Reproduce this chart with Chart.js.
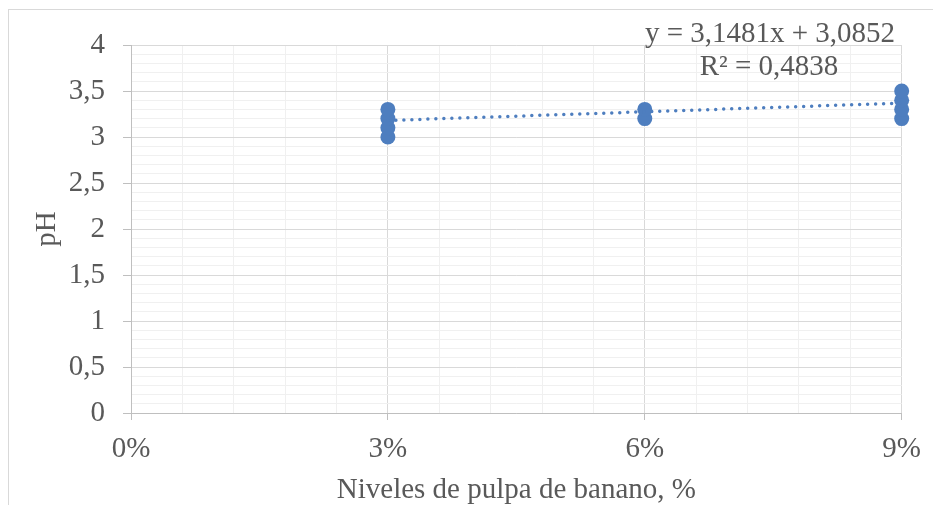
<!DOCTYPE html>
<html>
<head>
<meta charset="utf-8">
<script src="https://cdn.jsdelivr.net/npm/chart.js@4.4.1/dist/chart.umd.min.js"></script>
<style>
  body { margin: 0; background: #fff; }
  #wrap { position: relative; width: 933px; height: 505px; }
  #frame { position: absolute; left: 8px; top: 9px; right: -2px; bottom: -2px;
           border-left: 1px solid #d9d9d9; border-top: 1px solid #d9d9d9; pointer-events: none; }
</style>
</head>
<body>
<div id="wrap">
  <canvas id="chart" width="933" height="505"></canvas>
  <div id="frame"></div>
</div>
<script>
// Niveles de pulpa de banano (%) and measured pH
const levels = [3, 6, 9];
const phAt3 = [3.0, 3.1, 3.2, 3.3];
const phAt6 = [3.2, 3.3];
const phAt9 = [3.2, 3.3, 3.4, 3.5];

// Trendline reported on the chart (x as fraction)
const trendSlope = 3.1481;
const trendIntercept = 3.0852;
const trendR2 = 0.4838;

// Axis ticks
const xMajorTicks = [0, 3, 6, 9];
const yMajorTicks = [0, 0.5, 1, 1.5, 2, 2.5, 3, 3.5, 4];

const blue = '#4e7ebf';
const textGray = '#595959';
const family = "'Liberation Serif', 'Times New Roman', serif";
const font = { family: family, size: 29 };
const titleFont = { family: family, size: 29, lineHeight: 1 };

const points = [];
[phAt3, phAt6, phAt9].forEach((vals, i) => {
    vals.forEach(v => points.push({ x: levels[i], y: v }));
});

const trend = [levels[0], levels[levels.length - 1]].map(x => ({
    x: x,
    y: trendSlope * x / 100 + trendIntercept
}));

const comma = (n, d) => n.toFixed(d).replace('.', ',');

function isMajor(v, list) {
    return list.some(m => Math.abs(m - v) < 1e-6);
}

// minor ticks: 5 per major interval
function withMinors(major) {
    const out = [];
    for (let i = 0; i < major.length - 1; i++) {
        const a = major[i], b = major[i + 1];
        for (let k = 0; k < 5; k++) out.push({ value: a + (b - a) * k / 5 });
    }
    out.push({ value: major[major.length - 1] });
    return out;
}

const equationLabel = {
    id: 'equationLabel',
    afterDraw(chart) {
        const ctx = chart.ctx;
        ctx.save();
        ctx.font = `${font.size}px ${font.family}`;
        ctx.fillStyle = textGray;
        ctx.textAlign = 'center';
        ctx.textBaseline = 'middle';
        ctx.fillText(`y = ${comma(trendSlope, 4)}x + ${comma(trendIntercept, 4)}`, 770, 34);
        ctx.fillText(`R² = ${comma(trendR2, 4)}`, 769, 67);
        ctx.restore();
    }
};

new Chart(document.getElementById('chart'), {
    type: 'scatter',
    data: {
        datasets: [
            {
                type: 'line',
                data: trend,
                borderColor: blue,
                borderWidth: 3.5,
                borderDash: [0, 8],
                borderCapStyle: 'round',
                pointRadius: 0,
                fill: false,
                clip: false
            },
            {
                data: points,
                backgroundColor: blue,
                borderColor: blue,
                borderWidth: 0,
                pointRadius: 7.5,
                clip: false
            }
        ]
    },
    options: {
        responsive: false,
        animation: false,
        layout: { padding: { top: 45, right: 24, bottom: 0, left: 0 } },
        plugins: { legend: { display: false }, tooltip: { enabled: false } },
        scales: {
            x: {
                type: 'linear',
                min: 0,
                max: 9,
                afterBuildTicks: s => { s.ticks = withMinors(xMajorTicks); },
                afterFit: s => { s.height = 92; },
                ticks: {
                    autoSkip: false,
                    maxRotation: 0,
                    padding: 12,
                    color: textGray,
                    font: font,
                    callback: v => isMajor(v, xMajorTicks) ? v + '%' : ''
                },
                grid: {
                    color: c => isMajor(c.tick.value, xMajorTicks) ? '#d9d9d9' : '#f0f0f0',
                    tickColor: c => isMajor(c.tick.value, xMajorTicks) ? '#bfbfbf' : 'rgba(0,0,0,0)',
                    tickLength: 7
                },
                border: { color: '#bfbfbf' },
                title: {
                    display: true,
                    text: 'Niveles de pulpa de banano, %',
                    color: textGray,
                    font: titleFont,
                    padding: { top: 0, bottom: 0 }
                }
            },
            y: {
                min: 0,
                max: 4,
                afterBuildTicks: s => { s.ticks = withMinors(yMajorTicks); },
                afterFit: s => { s.width = 131; },
                ticks: {
                    autoSkip: false,
                    padding: 18,
                    color: textGray,
                    font: font,
                    callback: v => isMajor(v, yMajorTicks) ? comma(v, v % 1 === 0 ? 0 : 1) : ''
                },
                grid: {
                    color: c => isMajor(c.tick.value, yMajorTicks) ? '#d9d9d9' : '#f0f0f0',
                    tickColor: c => isMajor(c.tick.value, yMajorTicks) ? '#bfbfbf' : 'rgba(0,0,0,0)',
                    tickLength: 8
                },
                border: { color: '#bfbfbf' },
                title: {
                    display: true,
                    text: 'pH',
                    color: textGray,
                    font: titleFont,
                    padding: { top: 33, bottom: 0 }
                }
            }
        }
    },
    plugins: [equationLabel]
});
</script>
</body>
</html>
